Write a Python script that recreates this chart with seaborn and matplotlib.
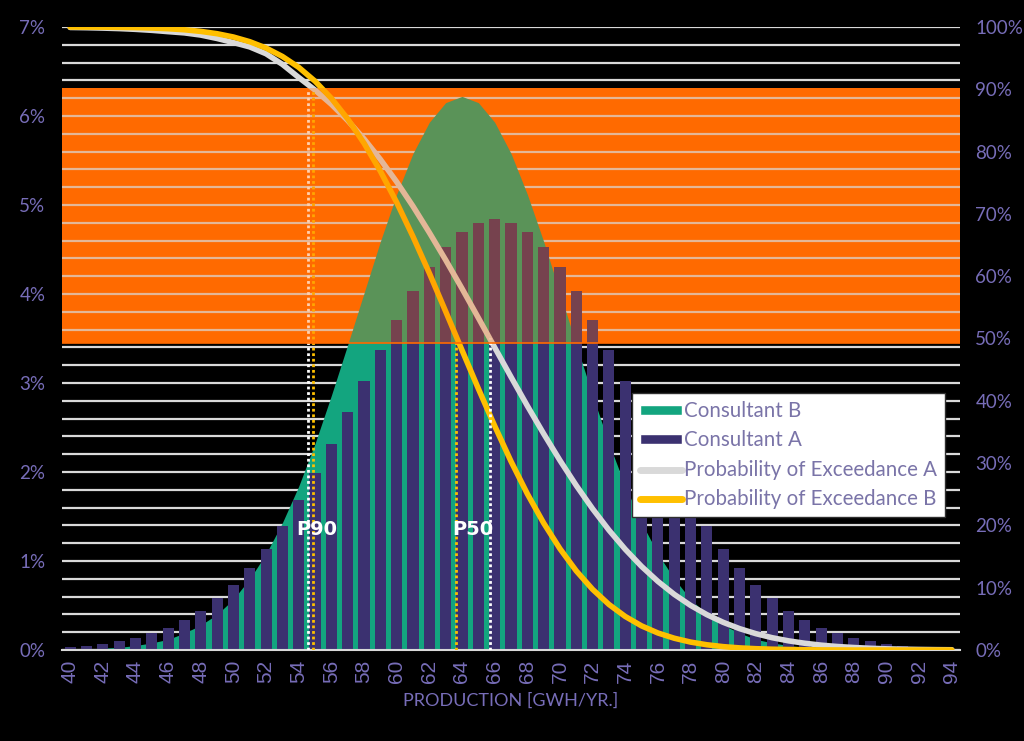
import numpy as np
import matplotlib
matplotlib.use('Agg')
import matplotlib.pyplot as plt
from matplotlib.patches import Patch
from matplotlib.lines import Line2D
import seaborn as sns

# Data (GWh/yr categories, % values)
production = list(range(40, 95))

consultant_a = [0.03, 0.05, 0.07, 0.10, 0.14, 0.19, 0.25, 0.34, 0.44, 0.58,
                0.73, 0.92, 1.14, 1.39, 1.68, 1.99, 2.32, 2.67, 3.02, 3.37,
                3.71, 4.03, 4.30, 4.53, 4.70, 4.80, 4.84, 4.80, 4.70, 4.53,
                4.30, 4.03, 3.71, 3.37, 3.02, 2.67, 2.32, 1.99, 1.68, 1.39,
                1.14, 0.92, 0.73, 0.58, 0.44, 0.34, 0.25, 0.19, 0.14, 0.10,
                0.07, 0.05, 0.03, 0.02, 0.01]

consultant_b = [0.01, 0.01, 0.02, 0.03, 0.05, 0.08, 0.12, 0.19, 0.28, 0.40,
                0.57, 0.80, 1.08, 1.43, 1.84, 2.32, 2.86, 3.43, 4.01, 4.59,
                5.12, 5.58, 5.93, 6.15, 6.22, 6.15, 5.93, 5.58, 5.12, 4.59,
                4.01, 3.43, 2.86, 2.32, 1.84, 1.43, 1.08, 0.80, 0.57, 0.40,
                0.28, 0.19, 0.12, 0.08, 0.05, 0.03, 0.02, 0.01, 0.01, 0.00,
                0.00, 0.00, 0.00, 0.00, 0.00]

exceed_a = [99.92, 99.88, 99.82, 99.74, 99.62, 99.46, 99.25, 99.05, 98.70, 98.15,
            97.50, 96.80, 95.70, 94.00, 91.90, 89.87, 87.59, 84.99, 82.04, 78.75,
            75.14, 71.22, 67.00, 62.60, 58.02, 53.32, 48.57, 43.84, 39.20, 34.72,
            30.43, 26.40, 22.66, 19.24, 16.16, 13.41, 11.01, 8.93, 7.16, 5.67,
            4.44, 3.43, 2.62, 1.97, 1.47, 1.08, 0.78, 0.56, 0.40, 0.28,
            0.19, 0.13, 0.09, 0.06, 0.04]

exceed_b = [99.99, 99.98, 99.97, 99.94, 99.90, 99.83, 99.72, 99.55, 99.29, 98.92,
            98.39, 97.64, 96.62, 95.27, 93.52, 91.30, 88.55, 85.24, 81.35, 76.86,
            71.84, 66.35, 60.49, 54.34, 48.13, 41.96, 35.98, 30.29, 25.08, 20.38,
            16.25, 12.69, 9.73, 7.31, 5.38, 3.87, 2.73, 1.89, 1.27, 0.84,
            0.54, 0.34, 0.21, 0.13, 0.08, 0.04, 0.02, 0.01, 0.00, 0.00,
            0.00, 0.00, 0.00, 0.00, 0.00]

p_levels = [90, 50]
p_a = [54.55, 65.7]   # P90 / P50 of consultant A
p_b = [54.9, 63.65]   # P90 / P50 of consultant B
band = [49.2, 90.2]   # highlighted band, right-axis %

# Colours
NAVY = '#3b3170'
TEAL = '#13a57f'
ORANGE = '#ff6a00'
GREY = '#d9d9d9'
GOLD = '#ffc000'
LABEL = '#776db8'
LEGEND_TEXT = '#7a74a8'

sns.set_style('dark')
plt.rcParams['font.family'] = ['Lato', 'DejaVu Sans']

n = len(production)
idx = np.arange(n)


def to_idx(v):
    return v - production[0]


fig = plt.figure(figsize=(10.24, 7.41), dpi=100, facecolor='black')
ax = fig.add_axes([0.0605, 0.1228, 0.877, 0.8408])
ax.set_facecolor('black')

# opaque orange band behind everything
ax.axhspan(band[0] * 0.07, band[1] * 0.07, color=ORANGE, zorder=0.2, lw=0)

# consultant B as area, consultant A as bars
ax.fill_between(idx, consultant_b, 0, color=TEAL, lw=0, zorder=1)
sns.barplot(x=production, y=consultant_a, ax=ax, color=NAVY, width=0.68,
            saturation=1, zorder=2, edgecolor='none', linewidth=0)

ax.set_xlim(-0.5, n - 0.5)
ax.set_ylim(0, 7)
ax.set_yticks(np.arange(0, 8, 1))
ax.set_yticklabels([f'{v}%' for v in range(0, 8)])
ax.set_yticks(np.arange(0, 7.01, 0.2), minor=True)
ax.set_axisbelow(True)
ax.grid(False)
ax.grid(True, which='both', axis='y', color=GREY, lw=1.6)
ax.grid(False, axis='x', which='both')

ax.set_xticks(idx[::2])
ax.set_xticklabels([str(v) for v in production[::2]], rotation=90,
                   family=['Liberation Sans Narrow', 'Liberation Sans'])
ax.set_xticks(np.arange(-0.5, n, 1), minor=True)
ax.tick_params(axis='x', which='major', length=0, pad=7, labelsize=15,
               labelcolor=LABEL)
ax.tick_params(axis='x', which='minor', length=5, width=1.5, color=GREY,
               direction='out')
ax.tick_params(axis='y', which='both', length=0, pad=12, labelsize=13.5,
               labelcolor=LABEL)
for s in ['top', 'left', 'right']:
    ax.spines[s].set_visible(False)
ax.spines['bottom'].set_color(GREY)
ax.spines['bottom'].set_linewidth(1.5)
ax.set_xlabel('PRODUCTION [GWH/YR.]', color=LABEL, fontsize=13, labelpad=7)
ax.set_ylabel('')

# exceedance curves on right axis
ax2 = ax.twinx()
sns.lineplot(x=idx, y=exceed_a, ax=ax2, color=GREY, lw=4, zorder=2,
             legend=False)
sns.lineplot(x=idx, y=exceed_b, ax=ax2, color=GOLD, lw=4, zorder=2,
             legend=False)
ax2.set_ylim(0, 100)
ax2.set_yticks(np.arange(0, 101, 10))
ax2.set_yticklabels([f'{v}%' for v in range(0, 101, 10)])
ax2.tick_params(axis='y', length=0, pad=11, labelsize=13.5, labelcolor=LABEL)
ax2.grid(False)
for s in ax2.spines.values():
    s.set_visible(False)

# P90 / P50 markers
for lvl, pa, pb in zip(p_levels, p_a, p_b):
    ax2.vlines(to_idx(pa), 0, lvl, colors='white', lw=2,
               linestyles=(0, (1, 1)), zorder=3)
    ax2.vlines(to_idx(pb), 0, lvl, colors=GOLD, lw=2,
               linestyles=(0, (1, 1)), zorder=3)
label_x = [to_idx(p_b[0]) + 0.2, to_idx((p_a[1] + p_b[1]) / 2)]
for lx, lvl in zip(label_x, p_levels):
    ax2.text(lx, 19.3, f'P{lvl}', color='white', fontsize=14,
             fontweight='bold', ha='center', va='center', zorder=5,
             family='DejaVu Sans')

# translucent orange overlay on top
ax2.axhspan(band[0], band[1], color=ORANGE, alpha=0.3, lw=0, zorder=4)
ax2.axhline(band[0], color=ORANGE, lw=1.2, zorder=4)

handles = [Patch(facecolor=TEAL, label='Consultant B'),
           Patch(facecolor=NAVY, label='Consultant A'),
           Line2D([0], [0], color=GREY, lw=5, label='Probability of Exceedance A'),
           Line2D([0], [0], color=GOLD, lw=5, label='Probability of Exceedance B')]
leg = ax2.legend(handles=handles, loc='upper left',
                 bbox_to_anchor=(0.635, 0.4125), borderaxespad=0,
                 frameon=True, fancybox=False, framealpha=1,
                 facecolor='white', edgecolor='#303030', fontsize=14.8,
                 labelcolor=LEGEND_TEXT, handlelength=2.0, handleheight=0.35,
                 handletextpad=0.1, labelspacing=0.45, borderpad=0.4)
leg.set_zorder(10)

fig.savefig('out.png', dpi=100, facecolor='black')
